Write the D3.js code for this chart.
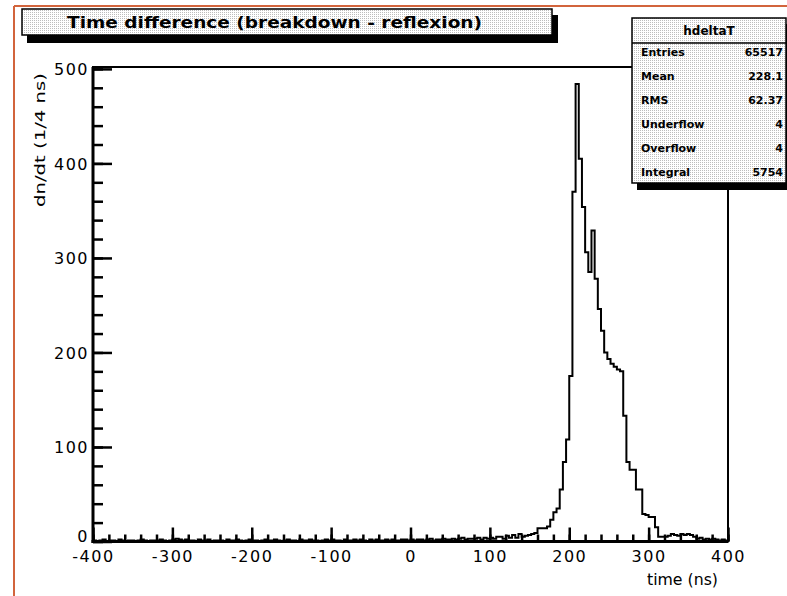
<!DOCTYPE html>
<html>
<head>
<meta charset="utf-8">
<script src="https://cdnjs.cloudflare.com/ajax/libs/d3/7.8.5/d3.min.js"></script>
<style>
body { margin: 0; background: #fff; }
text { font-family: "DejaVu Sans", sans-serif; fill: #000; }
</style>
</head>
<body>
<div id="canvas"></div>
<script>
// ----------------------------------------------------------
// DATA -----------------------------------------------------
// ----------------------------------------------------------
var time_range = [-400, 400];
var bin_width = 4;

// counts per 4 ns bin, -400 ... 396
var counts = [
1,0,1,2,0,1,1,0,2,1,0,1,1,0,1,2,1,0,1,1,
1,2,1,0,1,2,3,2,1,2,1,1,0,2,1,1,2,0,1,1,
1,0,2,1,1,2,1,0,1,2,1,1,0,1,2,1,1,2,1,0,
1,2,1,1,0,2,1,1,2,1,1,0,1,2,1,2,1,1,0,2,
1,1,2,1,2,1,0,2,1,2,1,1,2,1,2,1,1,2,2,1,
2,1,2,2,1,2,3,1,2,2,3,2,2,3,2,3,4,2,3,3,
3,4,2,4,3,
4,3,5,5,3,6,4,7,4,8,5,6,7,8,9,
14,14,14,16,23,31,35,55,84,108,
175,370,484,405,354,306,285,329,278,246,
223,200,193,188,185,182,180,133,84,76,
76,55,55,29,28,26,26,15,5,5,
5,6,8,7,6,8,7,8,7,5,3,4,2,3,2,3,2,1,2,1
];

var y_ticks = [0, 100, 200, 300, 400, 500];
var x_ticks = [-400, -300, -200, -100, 0, 100, 200, 300, 400];

var stats_labels = ["Entries", "Mean", "RMS", "Underflow", "Overflow", "Integral"];
var stats_values = ["65517", "228.1", "62.37", "4", "4", "5754"];

var text_title = "Time difference (breakdown - reflexion)";
var text_stats = "hdeltaT";
var text_x = "time (ns)";
var text_y = "dn/dt (1/4 ns)";

// ----------------------------------------------------------
// STRUCTURE ------------------------------------------------
// ----------------------------------------------------------
var svg = d3.select("#canvas").append("svg")
.attr("width", 787)
.attr("height", 596)
.style("display", "block")
.style("background", "#fff");

var defs = svg.append("defs");
var pat = defs.append("pattern")
.attr("id", "dots")
.attr("width", 2).attr("height", 2)
.attr("patternUnits", "userSpaceOnUse");
pat.append("rect").attr("width", 2).attr("height", 2).attr("fill", "#fff");
pat.append("rect").attr("width", 1).attr("height", 1).attr("fill", "#bdbdbd");

// canvas border
svg.append("line")
.attr("x1", 14).attr("x2", 14).attr("y1", 6).attr("y2", 596)
.style("stroke", "#d2643c").style("stroke-width", 2);
svg.append("line")
.attr("x1", 14).attr("x2", 787).attr("y1", 6).attr("y2", 6)
.style("stroke", "#d2643c").style("stroke-width", 2);

// ----------------------------------------------------------
// SCALES ---------------------------------------------------
// ----------------------------------------------------------
var xScale = d3.scaleLinear()
.domain(time_range)
.range([93, 728]);

var yScale = d3.scaleLinear()
.domain([0, 502])
.range([541.5, 67]);

// ----------------------------------------------------------
// GFX ------------------------------------------------------
// ----------------------------------------------------------
var plot = svg.append("g").attr("class", "plot");

// frame
plot.append("rect")
.attr("x", xScale(time_range[0]))
.attr("y", yScale(502))
.attr("width", xScale(time_range[1]) - xScale(time_range[0]))
.attr("height", yScale(0) - yScale(502))
.style("fill", "none").style("stroke", "#000").style("stroke-width", 2);

// histogram outline
var pts = [[time_range[0], 0]];
counts.forEach(function(c, i) { pts.push([time_range[0] + i * bin_width, c]); });
pts.push([time_range[1], counts[counts.length - 1]]);
pts.push([time_range[1], 0]);

var line = d3.line()
.x(function(d) { return xScale(d[0]); })
.y(function(d) { return yScale(d[1]); })
.curve(d3.curveStepAfter);

plot.append("path")
.datum(pts)
.attr("d", line)
.style("fill", "none").style("stroke", "#000").style("stroke-width", 2);

// AXIS  -------------------------------------------------
// Y minor
plot.append("g")
.attr("transform", "translate(" + xScale(time_range[0]) + ",0)")
.call(d3.axisLeft(yScale).tickValues(d3.range(0, 501, 20)).tickSize(-10).tickFormat(""))
.call(function(g) {
g.select(".domain").remove();
g.selectAll(".tick line").style("stroke-width", 2.5);
});
// Y major
plot.append("g")
.attr("transform", "translate(" + xScale(time_range[0]) + ",0)")
.call(d3.axisLeft(yScale).tickValues(y_ticks).tickSize(-19).tickFormat(function(d) { return String(d); }))
.call(function(g) {
g.select(".domain").remove();
g.selectAll(".tick line").style("stroke-width", 2.5);
g.selectAll(".tick text")
.attr("x", -4)
.attr("y", function(d) { return d === 0 ? -6 : 0; })
.attr("dy", "0.35em")
.style("font-size", "16px").style("letter-spacing", "1.5px")
.style("font-family", "DejaVu Sans").attr("fill", "#000");
});

// X minor
plot.append("g")
.attr("transform", "translate(0," + yScale(0) + ")")
.call(d3.axisBottom(xScale).tickValues(d3.range(-400, 401, 20)).tickSize(-7).tickFormat(""))
.call(function(g) {
g.select(".domain").remove();
g.selectAll(".tick line").style("stroke-width", 2.5);
});
// X major
plot.append("g")
.attr("transform", "translate(0," + yScale(0) + ")")
.call(d3.axisBottom(xScale).tickValues(x_ticks).tickSize(-14).tickFormat(function(d) { return String(d); }))
.call(function(g) {
g.select(".domain").remove();
g.selectAll(".tick line").style("stroke-width", 2.5);
g.selectAll(".tick text")
.attr("y", 15).attr("dy", "0.35em")
.style("font-size", "16px").style("letter-spacing", "1.5px")
.style("font-family", "DejaVu Sans").attr("fill", "#000");
});

// thick axis lines
plot.append("line")
.attr("x1", xScale(time_range[0])).attr("x2", xScale(time_range[0]))
.attr("y1", yScale(502)).attr("y2", yScale(0) + 1.5)
.style("stroke", "#000").style("stroke-width", 3);
plot.append("line")
.attr("x1", xScale(time_range[0]) - 1.5).attr("x2", xScale(time_range[1]))
.attr("y1", yScale(0)).attr("y2", yScale(0))
.style("stroke", "#000").style("stroke-width", 3);

// axis titles
svg.append("text")
.attr("transform", "translate(40,140) rotate(-90)")
.attr("text-anchor", "middle")
.attr("dy", "0.35em")
.attr("textLength", 134).attr("lengthAdjust", "spacingAndGlyphs")
.style("font-size", "14px")
.text(text_y);

svg.append("text")
.attr("x", 718).attr("y", 580)
.attr("text-anchor", "end")
.attr("dy", "0.35em")
.attr("textLength", 71).attr("lengthAdjust", "spacingAndGlyphs")
.style("font-size", "15px")
.text(text_x);

// ----------------------------------------------------------
// TITLE BOX ------------------------------------------------
// ----------------------------------------------------------
svg.append("rect")
.attr("x", 27).attr("y", 15).attr("width", 531).attr("height", 28)
.style("fill", "#000");
svg.append("rect")
.attr("x", 22).attr("y", 9).attr("width", 530).attr("height", 26)
.style("fill", "url(#dots)").style("stroke", "#000").style("stroke-width", 1.5);
svg.append("text")
.attr("x", 67).attr("y", 22).attr("dy", "0.35em")
.attr("textLength", 415).attr("lengthAdjust", "spacingAndGlyphs")
.style("font-size", "16px").style("font-weight", "bold")
.text(text_title);

// ----------------------------------------------------------
// STATS BOX ------------------------------------------------
// ----------------------------------------------------------
var stats = svg.append("g").attr("class", "stats");
stats.append("rect")
.attr("x", 637).attr("y", 24).attr("width", 160).attr("height", 166)
.style("fill", "#000");
stats.append("rect")
.attr("x", 632).attr("y", 18).attr("width", 154).attr("height", 165)
.style("fill", "url(#dots)").style("stroke", "#000").style("stroke-width", 1.5);
stats.append("line")
.attr("x1", 632).attr("x2", 786).attr("y1", 43).attr("y2", 43)
.style("stroke", "#000").style("stroke-width", 1.5);
stats.append("text")
.attr("x", 709).attr("y", 30.5).attr("dy", "0.35em")
.attr("text-anchor", "middle")
.style("font-size", "12px").style("font-weight", "bold")
.text(text_stats);

stats.selectAll(".stat_label")
.data(stats_labels)
.enter().append("text")
.attr("class", "stat_label")
.attr("x", 641)
.attr("y", function(d, i) { return 52 + i * 24; })
.attr("dy", "0.35em")
.style("font-size", "11px").style("font-weight", "bold")
.text(function(d) { return d; });

stats.selectAll(".stat_value")
.data(stats_values)
.enter().append("text")
.attr("class", "stat_value")
.attr("x", 783)
.attr("y", function(d, i) { return 52 + i * 24; })
.attr("dy", "0.35em")
.attr("text-anchor", "end")
.style("font-size", "11px").style("font-weight", "bold")
.text(function(d) { return d; });
</script>
</body>
</html>
